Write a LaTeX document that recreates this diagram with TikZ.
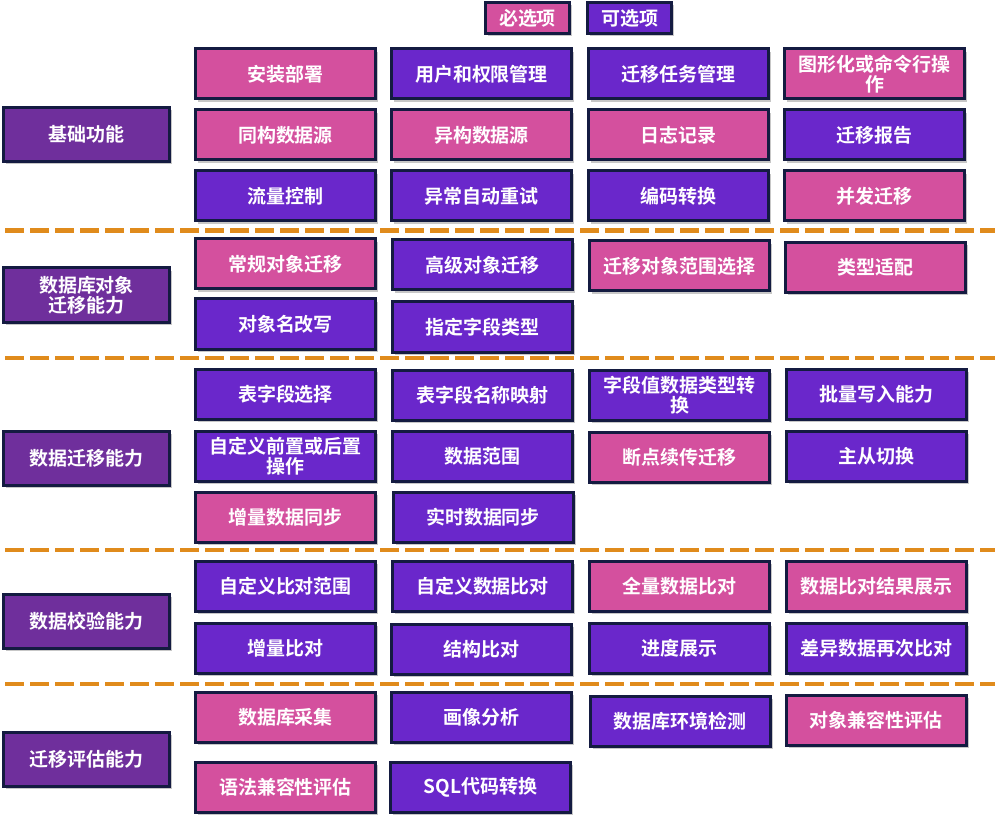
\documentclass[tikz,border=0pt]{standalone}
\usepackage{fontspec}
\setmainfont{Noto Sans CJK SC}[BoldFont={Noto Sans CJK SC Bold}]
\usepackage{tikz}
\usetikzlibrary{shadows}

\definecolor{rose}{HTML}{D4509E}
\definecolor{violet}{HTML}{6A27CB}
\definecolor{prune}{HTML}{6F2F9C}
\definecolor{bord}{HTML}{141B41}
\definecolor{orange}{HTML}{E08B1C}

\begin{document}
\begin{tikzpicture}[x=0.25mm, y=-0.25mm,
    boite/.style={draw=bord, line width=0.75mm, text=white, font=\fontsize{13.5}{14.5}\selectfont\bfseries,
      align=center, inner sep=0pt, minimum width=45mm, minimum height=12.5mm,
      drop shadow={shadow xshift=0.7mm, shadow yshift=-0.7mm, fill=black!22, opacity=1}},
    oblig/.style={boite, fill=rose},
    option/.style={boite, fill=violet},
    categ/.style={boite, fill=prune, minimum width=41.5mm, minimum height=13.5mm},
    legende/.style={minimum width=21mm, minimum height=7.75mm},
    sep/.style={draw=orange, line width=1.15mm, dash pattern=on 4.75mm off 1.5mm}]
    \useasboundingbox (0,0) rectangle (995,817);
    % Legende
    \node[oblig, legende] at (527.5,18) (lo) {必选项};
    \node[option, legende] at (629.5,18) (lf) {可选项};
    % Separateurs
    \draw[sep] (5,230.5) -- (1000,230.5);
    \draw[sep] (5,358) -- (1000,358);
    \draw[sep] (5,550) -- (1000,550);
    \draw[sep] (5,684) -- (1000,684);
    % Base
    \node[categ] at (86.5,134.5) (c1) {基础功能};
    \node[oblig]  at (285.5,74) (a1) {安装部署};
    \node[option] at (481.5,74) (a2) {用户和权限管理};
    \node[option] at (678.5,74) (a3) {迁移任务管理};
    \node[oblig]  at (874.5,74) (a4) {图形化或命令行操\\作};
    \node[oblig]  at (285.5,135) (a5) {同构数据源};
    \node[oblig]  at (481.5,135) (a6) {异构数据源};
    \node[oblig]  at (678.5,135) (a7) {日志记录};
    \node[option] at (874.5,135) (a8) {迁移报告};
    \node[option] at (285.5,196) (a9) {流量控制};
    \node[option] at (481.5,196) (a10) {异常自动重试};
    \node[option] at (678.5,196) (a11) {编码转换};
    \node[oblig]  at (874.5,196) (a12) {并发迁移};
    % Objets
    \node[categ] at (86.5,295) (c2) {数据库对象\\迁移能力};
    \node[oblig]  at (285.5,264) (b1) {常规对象迁移};
    \node[option] at (482.5,265) (b2) {高级对象迁移};
    \node[oblig]  at (679.5,266) (b3) {迁移对象范围选择};
    \node[oblig]  at (875.5,267.5) (b4) {类型适配};
    \node[option] at (285.5,324) (b5) {对象名改写};
    \node[option] at (482.5,327) (b6) {指定字段类型};
    % Donnees
    \node[categ] at (86.5,458) (c3) {数据迁移能力};
    \node[option] at (285.5,394) (d1) {表字段选择};
    \node[option] at (482.5,395) (d2) {表字段名称映射};
    \node[option] at (679.5,395) (d3) {字段值数据类型转\\换};
    \node[option] at (876.5,394) (d4) {批量写入能力};
    \node[option] at (285.5,456) (d5) {自定义前置或后置\\操作};
    \node[option] at (482.5,456) (d6) {数据范围};
    \node[oblig]  at (679.5,457.5) (d7) {断点续传迁移};
    \node[option] at (876.5,456) (d8) {主从切换};
    \node[oblig]  at (285.5,517.5) (d9) {增量数据同步};
    \node[option] at (483,517.5) (d10) {实时数据同步};
    % Verification
    \node[categ] at (86.5,621) (c4) {数据校验能力};
    \node[option] at (285.5,586) (e1) {自定义比对范围};
    \node[option] at (482.5,586) (e2) {自定义数据比对};
    \node[oblig]  at (679.5,586) (e3) {全量数据比对};
    \node[oblig]  at (876.5,586) (e4) {数据比对结果展示};
    \node[option] at (285.5,648.5) (e5) {增量比对};
    \node[option] at (481.5,649) (e6) {结构比对};
    \node[option] at (679.5,648.5) (e7) {进度展示};
    \node[option] at (876.5,648.5) (e8) {差异数据再次比对};
    % Evaluation
    \node[categ] at (86.5,759) (c5) {迁移评估能力};
    \node[oblig]  at (285.5,717.5) (f1) {数据库采集};
    \node[option] at (481.5,717.5) (f2) {画像分析};
    \node[option] at (680,721) (f3) {数据库环境检测};
    \node[oblig]  at (876,720.5) (f4) {对象兼容性评估};
    \node[oblig]  at (285.5,787) (f5) {语法兼容性评估};
    \node[option] at (480.5,787) (f6) {SQL代码转换};
\end{tikzpicture}
\end{document}
